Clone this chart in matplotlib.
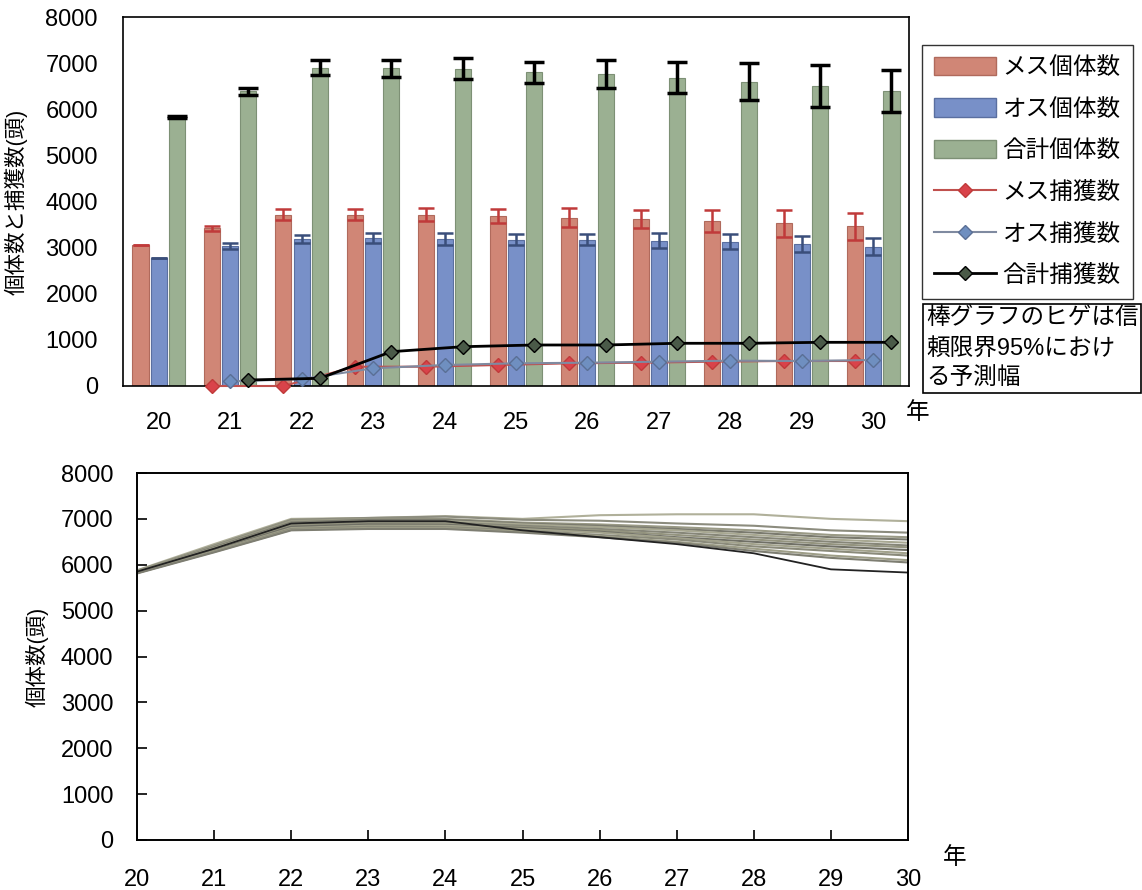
import numpy as np
import matplotlib
matplotlib.use("Agg")
from matplotlib import pyplot as plt
from matplotlib.patches import Patch
from matplotlib.lines import Line2D

plt.rcParams['font.family'] = ['Liberation Sans', 'Noto Sans CJK JP']

# ---- data ----
years = ['20', '21', '22', '23', '24', '25', '26', '27', '28', '29', '30']

female_pop = [3057, 3418, 3718, 3718, 3718, 3690, 3653, 3617, 3580, 3526, 3461]
female_err = [10, 50, 120, 120, 134, 150, 200, 200, 235, 290, 296]
male_pop = [2775, 3029, 3184, 3202, 3184, 3176, 3176, 3154, 3130, 3082, 3021]
male_err = [0, 65, 90, 108, 127, 120, 120, 170, 165, 170, 181]
total_pop = [5832, 6388, 6905, 6887, 6877, 6797, 6761, 6688, 6598, 6507, 6399]
total_err = [15, 80, 160, 180, 228, 234, 307, 342, 398, 452, 452]

# capture numbers start in year 21
female_catch = [0, 0, 418, 418, 455, 492, 505, 527, 542, 542]
male_catch = [100, 150, 384, 455, 492, 505, 527, 549, 542, 564]
total_catch = [130, 167, 744, 852, 889, 889, 926, 926, 947, 947]

# simulated trajectories (bottom panel)
sim_years = [20, 21, 22, 23, 24, 25, 26, 27, 28, 29, 30]
sim_runs = [
    [5880, 6450, 7000, 7020, 7060, 7000, 7080, 7100, 7100, 7000, 6950],
    [5870, 6420, 6980, 7020, 7050, 6980, 6960, 6900, 6850, 6750, 6700],
    [5860, 6400, 6950, 7000, 7000, 6920, 6880, 6820, 6750, 6650, 6600],
    [5850, 6380, 6920, 6980, 6980, 6900, 6850, 6780, 6700, 6600, 6550],
    [5850, 6360, 6900, 6950, 6950, 6880, 6820, 6750, 6650, 6550, 6480],
    [5840, 6340, 6880, 6920, 6920, 6850, 6780, 6700, 6600, 6500, 6420],
    [5840, 6330, 6850, 6900, 6900, 6820, 6750, 6650, 6550, 6450, 6380],
    [5830, 6310, 6830, 6880, 6870, 6800, 6720, 6600, 6500, 6400, 6320],
    [5830, 6300, 6800, 6850, 6850, 6780, 6700, 6580, 6450, 6350, 6250],
    [5820, 6290, 6780, 6830, 6820, 6750, 6650, 6550, 6400, 6300, 6200],
    [5820, 6280, 6760, 6800, 6800, 6720, 6620, 6500, 6350, 6200, 6100],
    [5810, 6270, 6750, 6780, 6780, 6700, 6600, 6480, 6300, 6150, 6050],
]
sim_low = [5850, 6350, 6900, 6950, 6950, 6750, 6600, 6450, 6250, 5900, 5830]

fig = plt.figure(figsize=(11.42, 8.9), dpi=100)
W, H = 1142, 890
tick_fs = 17

# ---- top panel ----
ax = fig.add_axes([123 / W, 1 - 386 / H, (909 - 123) / W, (386 - 17) / H])
x = np.arange(len(years))
bw = 0.225
off = 0.255

c_f, c_m, c_t = '#d08676', '#7890c8', '#9bb092'
ax.bar(x - off, female_pop, bw, color=c_f, edgecolor='#b06a5c', lw=0.8, zorder=2)
ax.bar(x, male_pop, bw, color=c_m, edgecolor='#5a6fa0', lw=0.8, zorder=2)
ax.bar(x + off, total_pop, bw, color=c_t, edgecolor='#7d9075', lw=0.8, zorder=2)
ax.errorbar(x - off, female_pop, yerr=female_err, fmt='none', ecolor='#c03a3a',
            elinewidth=1.8, capsize=6, capthick=1.8, zorder=3)
ax.errorbar(x, male_pop, yerr=male_err, fmt='none', ecolor='#3a4e7a',
            elinewidth=1.8, capsize=6, capthick=1.8, zorder=3)
ax.errorbar(x + off, total_pop, yerr=total_err, fmt='none', ecolor='black',
            elinewidth=2.5, capsize=7, capthick=2.5, zorder=3)

xc = x[1:]
ax.plot(xc - off, female_catch, color='#c0504d', lw=1.5, marker='D', ms=7,
        mfc='#d9434a', mec='#c03a3a', zorder=4, clip_on=False)
ax.plot(xc, male_catch, color='#7f8aa0', lw=1.5, marker='D', ms=7,
        mfc='#6f8fc0', mec='#5a6f95', zorder=4, clip_on=False)
ax.plot(xc + off, total_catch, color='black', lw=2, marker='D', ms=7,
        mfc='#4a5a48', mec='black', zorder=5, clip_on=False)

ax.set_xlim(-0.5, 10.5)
ax.set_ylim(0, 8000)
ax.set_yticks(range(0, 8001, 1000))
ax.set_xticks(x)
ax.set_xticklabels(years)
ax.tick_params(axis='both', length=0, labelsize=tick_fs)
ax.tick_params(axis='y', pad=18)
ax.tick_params(axis='x', pad=19)
for s in ax.spines.values():
    s.set_linewidth(1.2)
ax.set_ylabel('個体数と捕獲数(頭)', fontsize=15.5)
ax.yaxis.set_label_coords(-0.121, 0.5)
fig.text(918 / W, 1 - 413 / H, '年', fontsize=17, ha='center', va='center')

handles = [
    Patch(facecolor=c_f, edgecolor='#b06a5c'),
    Patch(facecolor=c_m, edgecolor='#5a6fa0'),
    Patch(facecolor=c_t, edgecolor='#7d9075'),
    Line2D([], [], color='#c0504d', lw=1.5, marker='D', ms=7, mfc='#d9434a', mec='#c03a3a'),
    Line2D([], [], color='#7f8aa0', lw=1.5, marker='D', ms=7, mfc='#6f8fc0', mec='#5a6f95'),
    Line2D([], [], color='black', lw=2, marker='D', ms=7, mfc='#4a5a48', mec='black'),
]
labels = ['メス個体数', 'オス個体数', '合計個体数', 'メス捕獲数', 'オス捕獲数', '合計捕獲数']
leg = ax.legend(handles, labels, loc='upper left', bbox_to_anchor=(1.017, 0.924),
                borderaxespad=0, fontsize=17, frameon=True, fancybox=False,
                edgecolor='black', handlelength=2.6, handleheight=0.8,
                labelspacing=0.82, handletextpad=0.3, borderpad=0.5)
leg.get_frame().set_linewidth(1.0)

fig.text(926 / W, 1 - 307 / H, '棒グラフのヒゲは信\n頼限界95%におけ\nる予測幅',
         fontsize=17, ha='left', va='top', linespacing=1.5,
         bbox=dict(boxstyle='square,pad=0.12', facecolor='white', edgecolor='black', lw=1.2))

# ---- bottom panel ----
ax2 = fig.add_axes([137 / W, 1 - 840 / H, (908 - 137) / W, (840 - 473) / H])
greys = ['#b0b09a', '#8c8c7e', '#9a9a86', '#7a7a6e', '#a8a892', '#868678',
         '#94947f', '#707066', '#a2a28c', '#8a8a7a', '#9e9e88', '#7e7e72']
for run, col in zip(sim_runs, greys):
    ax2.plot(sim_years, run, color=col, lw=1.5)
ax2.plot(sim_years, sim_low, color='#222222', lw=1.3)

ax2.set_xlim(20, 30)
ax2.set_ylim(0, 8000)
ax2.set_xticks(sim_years)
ax2.set_yticks(range(0, 8001, 1000))
ax2.tick_params(axis='both', direction='in', length=7, width=1.2, labelsize=tick_fs)
ax2.tick_params(axis='y', pad=17)
ax2.tick_params(axis='x', pad=21)
for s in ax2.spines.values():
    s.set_linewidth(1.4)
ax2.set_ylabel('個体数(頭)', fontsize=15.5)
ax2.yaxis.set_label_coords(-0.114, 0.5)
fig.text(955 / W, 1 - 858 / H, '年', fontsize=17, ha='center', va='center')

fig.savefig('out.png', dpi=100)
